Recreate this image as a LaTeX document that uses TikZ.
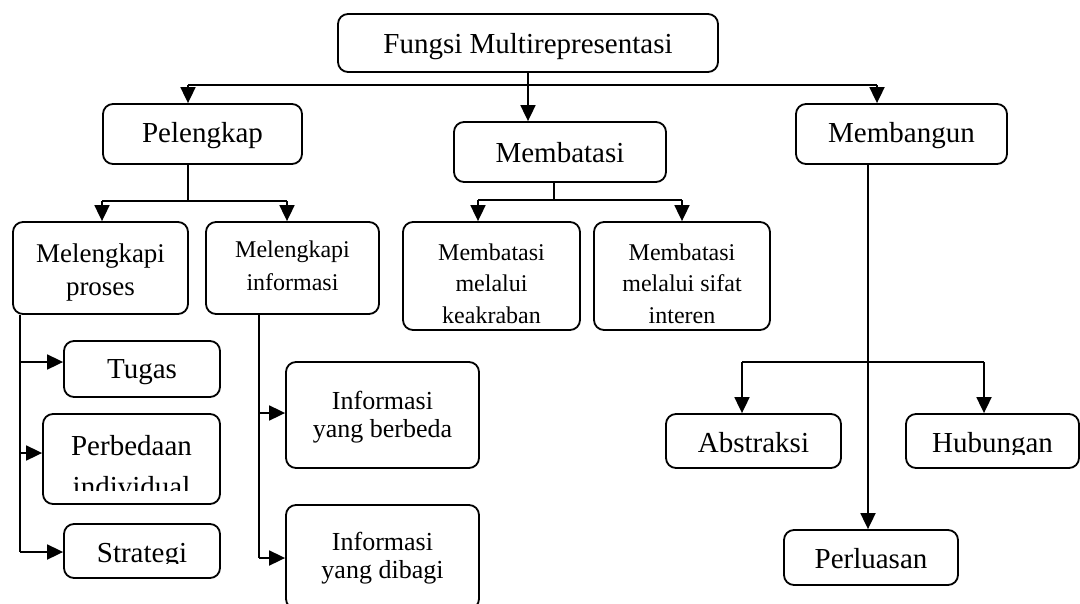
\documentclass[tikz,border=0pt]{standalone}
\usepackage{fontspec}
\setmainfont{Liberation Serif}
\usetikzlibrary{arrows.meta}
\tikzset{
  kotak/.style={draw,line width=1.8pt,rounded corners=10pt,align=center,inner sep=0pt,text depth=0pt},
  panah/.style={line width=1.8pt,-{Triangle[length=16pt,width=15pt]}},
  garis/.style={line width=1.8pt},
  besar/.style={font=\fontsize{29}{33}\selectfont},
}
\begin{document}
\begin{tikzpicture}[x=1pt,y=-1pt]
\useasboundingbox (0,0) rectangle (1080,603);
\clip (0,0) rectangle (1080,603);
% tingkat atas
\node[kotak,besar,text height=20pt,minimum width=380pt,minimum height=58pt] (fungsi) at (528,43) {Fungsi Multirepresentasi};
\node[kotak,besar,text height=16pt,minimum width=199pt,minimum height=60pt] (pelengkap) at (202.5,134) {Pelengkap};
\node[kotak,besar,text height=20pt,minimum width=212pt,minimum height=60pt] (membatasi) at (560,152) {Membatasi};
\node[kotak,besar,text height=16pt,minimum width=211pt,minimum height=60pt] (membangun) at (901.5,134) {Membangun};
% tingkat kedua
\node[kotak,font=\fontsize{27}{33}\selectfont,text height=54pt,minimum width=175pt,minimum height=92pt] (proses) at (100.5,268) {Melengkapi\\proses};
\node[kotak,font=\fontsize{24}{33}\selectfont,text height=44pt,minimum width=173pt,minimum height=92pt] (informasi) at (292.5,268) {Melengkapi\\informasi};
\node[kotak,font=\fontsize{24}{31.5}\selectfont,text height=94pt,minimum width=177pt,minimum height=108pt] (keakraban) at (491.5,276) {Membatasi\\melalui\\keakraban};
\node[kotak,font=\fontsize{24}{31.5}\selectfont,text height=94pt,minimum width=176pt,minimum height=108pt] (interen) at (682,276) {Membatasi\\melalui sifat\\interen};
% cabang proses
\node[kotak,besar,text height=18pt,minimum width=156pt,minimum height=56pt] (tugas) at (142,369) {Tugas};
\node[kotak,minimum width=177pt,minimum height=90pt] (perbedaan) at (131.5,459) {};
\node[kotak,minimum width=156pt,minimum height=54pt] (strategi) at (142,551) {};
\begin{scope}
\clip (43,414) rectangle (220,490);
\node[besar,align=center,anchor=base] (tperbedaan) at (131.5,496) {Perbedaan\\[8pt]individual};
\end{scope}
\begin{scope}
\clip (64,524) rectangle (220,563);
\node[besar,anchor=base] (tstrategi) at (142,562) {Strategi};
\end{scope}
% cabang informasi
\node[kotak,font=\fontsize{26}{28}\selectfont,text height=44pt,minimum width=193pt,minimum height=106pt] (berbeda) at (382.5,415) {Informasi\\yang berbeda};
\node[kotak,font=\fontsize{26}{28}\selectfont,text height=42pt,minimum width=193pt,minimum height=104pt] (dibagi) at (382.5,557) {Informasi\\yang dibagi};
% cabang membangun
\node[kotak,besar,text height=22pt,minimum width=175pt,minimum height=54pt] (abstraksi) at (753.5,441) {Abstraksi};
\node[kotak,minimum width=173pt,minimum height=54pt] (hubungan) at (992.5,441) {};
\begin{scope}
\clip (906,414) rectangle (1079,454);
\node[besar,anchor=base] (thubungan) at (992.5,452) {Hubungan};
\end{scope}
\node[kotak,besar,text height=21pt,minimum width=174pt,minimum height=55pt] (perluasan) at (871,557.5) {Perluasan};
% penghubung atas
\coordinate (barL) at (188,85);
\coordinate (barR) at (877,85);
\draw[garis] (barL) -- (barR);
\draw[panah] (fungsi.south) -- (fungsi.south |- membatasi.north);
\draw[panah] (barL) -- (barL |- pelengkap.north);
\draw[panah] (barR) -- (barR |- membangun.north);
% penghubung pelengkap
\coordinate (pelL) at (102,201);
\coordinate (pelR) at (287,201);
\draw[garis] (barL |- pelengkap.south) -- (barL |- pelL);
\draw[garis] (pelL) -- (pelR);
\draw[panah] (pelL) -- (pelL |- proses.north);
\draw[panah] (pelR) -- (pelR |- informasi.north);
% penghubung membatasi
\coordinate (batM) at (554,200);
\coordinate (batL) at (478,200);
\coordinate (batR) at (682,200);
\draw[garis] (batM |- membatasi.south) -- (batM);
\draw[garis] (batL) -- (batR);
\draw[panah] (batL) -- (batL |- keakraban.north);
\draw[panah] (batR) -- (batR |- interen.north);
% penghubung proses
\coordinate (cTugas) at (20,362);
\coordinate (cBeda) at (20,453);
\coordinate (cStrategi) at (20,552);
\draw[garis] (cStrategi |- proses.south) -- (cStrategi);
\draw[panah] (cTugas) -- (cTugas -| tugas.west);
\draw[panah] (cBeda) -- (cBeda -| perbedaan.west);
\draw[panah] (cStrategi) -- (cStrategi -| strategi.west);
% penghubung informasi
\coordinate (cBerbeda) at (259,413);
\coordinate (cDibagi) at (259,558);
\draw[garis] (cDibagi |- informasi.south) -- (cDibagi);
\draw[panah] (cBerbeda) -- (cBerbeda -| berbeda.west);
\draw[panah] (cDibagi) -- (cDibagi -| dibagi.west);
% penghubung membangun
\coordinate (cBangun) at (868,362);
\coordinate (bangL) at (742,362);
\coordinate (bangR) at (984,362);
\draw[panah] (cBangun |- membangun.south) -- (cBangun |- perluasan.north);
\draw[garis] (bangL) -- (bangR);
\draw[panah] (bangL) -- (bangL |- abstraksi.north);
\draw[panah] (bangR) -- (bangR |- hubungan.north);
\end{tikzpicture}
\end{document}
